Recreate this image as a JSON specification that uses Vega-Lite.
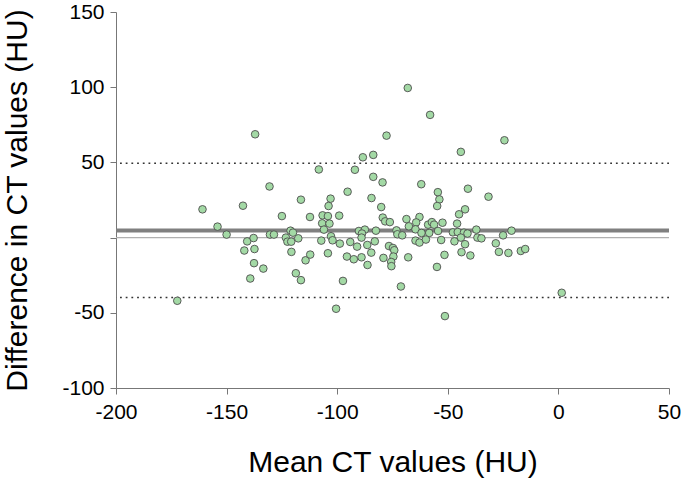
{
  "$schema": "https://vega.github.io/schema/vega-lite/v6.json",
  "width": 553,
  "height": 376,
  "autosize": {"type": "none"},
  "padding": {"left": 116, "top": 12, "right": 16, "bottom": 93},
  "config": {
    "view": {"stroke": null},
    "font": "Liberation Sans",
    "axis": {
      "grid": false,
      "domainColor": "#777777",
      "tickColor": "#777777",
      "tickSize": 6,
      "labelFontSize": 21,
      "titleFontSize": 30,
      "titleFontWeight": "normal",
      "labelColor": "#000000",
      "titleColor": "#000000",
      "labelFont": "Liberation Sans",
      "titleFont": "Liberation Sans",
      "labelFlush": false,
      "labelOverlap": false
    }
  },
  "layer": [
    {
      "data": {"values": [{"diff": 0}]},
      "mark": {"type": "rule", "color": "#b0b0b0", "strokeWidth": 1.2},
      "encoding": {"y": {"field": "diff", "type": "quantitative", "scale": {"domain": [-100, 150], "nice": false}}}
    },
    {
      "data": {"values": [{"diff": 4.8}]},
      "mark": {"type": "rule", "color": "#808080", "strokeWidth": 4},
      "encoding": {"y": {"field": "diff", "type": "quantitative"}}
    },
    {
      "data": {"values": [{"diff": 49.4}, {"diff": -39.8}]},
      "mark": {"type": "rule", "color": "#333333", "strokeWidth": 1.6, "strokeDash": [1.8, 3.9]},
      "encoding": {"y": {"field": "diff", "type": "quantitative"}}
    },
    {
      "data": {"values": [
        {"mean": -137.1, "diff": 68.7}, {"mean": -68.1, "diff": 99.5}, {"mean": -77.7, "diff": 67.8},
        {"mean": -130.6, "diff": 34.0}, {"mean": -108.3, "diff": 45.3}, {"mean": -92.0, "diff": 45.1},
        {"mean": -88.4, "diff": 53.4}, {"mean": -83.7, "diff": 55.0}, {"mean": -83.7, "diff": 40.4},
        {"mean": -79.5, "diff": 36.7}, {"mean": -95.3, "diff": 30.5}, {"mean": -116.4, "diff": 25.2},
        {"mean": -103.0, "diff": 25.9}, {"mean": -84.5, "diff": 26.3}, {"mean": -58.0, "diff": 81.6},
        {"mean": -24.4, "diff": 64.7}, {"mean": -44.1, "diff": 57.0}, {"mean": -62.0, "diff": 35.5},
        {"mean": -54.5, "diff": 30.2}, {"mean": -40.9, "diff": 32.5}, {"mean": -31.6, "diff": 27.2},
        {"mean": -53.8, "diff": 25.4}, {"mean": -160.9, "diff": 18.8}, {"mean": -142.6, "diff": 21.2},
        {"mean": -154.1, "diff": 7.3}, {"mean": -150.0, "diff": 2.0}, {"mean": -140.7, "diff": -2.5},
        {"mean": -137.8, "diff": -0.3}, {"mean": -142.0, "diff": -8.6}, {"mean": -137.4, "diff": -7.6},
        {"mean": -137.6, "diff": -17.0}, {"mean": -133.4, "diff": -20.6}, {"mean": -139.3, "diff": -27.2},
        {"mean": -172.3, "diff": -42.0}, {"mean": -125.0, "diff": 14.3}, {"mean": -112.3, "diff": 13.7},
        {"mean": -103.9, "diff": 21.0}, {"mean": -106.6, "diff": 14.8}, {"mean": -104.2, "diff": 14.3},
        {"mean": -99.1, "diff": 14.6}, {"mean": -106.8, "diff": 9.5}, {"mean": -103.5, "diff": 9.3},
        {"mean": -106.0, "diff": 5.3}, {"mean": -130.4, "diff": 2.0}, {"mean": -128.6, "diff": 2.0},
        {"mean": -121.1, "diff": 4.6}, {"mean": -120.0, "diff": 3.3}, {"mean": -123.2, "diff": 0.0},
        {"mean": -122.5, "diff": -2.7}, {"mean": -120.8, "diff": -2.7}, {"mean": -117.6, "diff": -0.5},
        {"mean": -120.7, "diff": -9.5}, {"mean": -114.3, "diff": -15.1}, {"mean": -112.2, "diff": -11.3},
        {"mean": -118.7, "diff": -23.7}, {"mean": -116.4, "diff": -28.3}, {"mean": -107.2, "diff": -2.0},
        {"mean": -102.8, "diff": 0.9}, {"mean": -102.1, "diff": -1.8}, {"mean": -98.8, "diff": -4.0},
        {"mean": -104.2, "diff": -10.4}, {"mean": -97.4, "diff": -28.8}, {"mean": -100.5, "diff": -47.3},
        {"mean": -80.1, "diff": 20.3}, {"mean": -79.4, "diff": 13.3}, {"mean": -78.3, "diff": 10.8},
        {"mean": -76.2, "diff": 10.3}, {"mean": -68.7, "diff": 12.3}, {"mean": -67.6, "diff": 7.5},
        {"mean": -90.2, "diff": 4.4}, {"mean": -87.5, "diff": 5.3}, {"mean": -88.8, "diff": 2.7},
        {"mean": -82.5, "diff": 4.6}, {"mean": -89.0, "diff": 0.0}, {"mean": -94.1, "diff": -2.9},
        {"mean": -91.0, "diff": -6.0}, {"mean": -86.4, "diff": -4.9}, {"mean": -83.0, "diff": -2.5},
        {"mean": -84.6, "diff": -10.0}, {"mean": -95.6, "diff": -12.6}, {"mean": -92.5, "diff": -14.4},
        {"mean": -89.0, "diff": -13.1}, {"mean": -86.3, "diff": -18.2}, {"mean": -73.2, "diff": 4.8},
        {"mean": -72.8, "diff": 2.2}, {"mean": -70.6, "diff": 1.5}, {"mean": -76.6, "diff": -5.6},
        {"mean": -74.8, "diff": -6.9}, {"mean": -74.2, "diff": -8.4}, {"mean": -79.1, "diff": -13.5},
        {"mean": -74.6, "diff": -12.6}, {"mean": -75.6, "diff": -16.2}, {"mean": -75.5, "diff": -19.0},
        {"mean": -67.9, "diff": -13.1}, {"mean": -71.2, "diff": -32.5}, {"mean": -54.8, "diff": 21.0},
        {"mean": -42.2, "diff": 18.8}, {"mean": -44.9, "diff": 15.5}, {"mean": -62.8, "diff": 13.7},
        {"mean": -64.3, "diff": 10.1}, {"mean": -64.6, "diff": 5.5}, {"mean": -58.9, "diff": 8.6},
        {"mean": -57.2, "diff": 10.3}, {"mean": -56.2, "diff": 8.6}, {"mean": -52.4, "diff": 9.9},
        {"mean": -45.8, "diff": 9.3}, {"mean": -54.4, "diff": 4.4}, {"mean": -58.4, "diff": 3.1},
        {"mean": -61.9, "diff": 3.1}, {"mean": -64.6, "diff": -2.0}, {"mean": -62.8, "diff": -3.3},
        {"mean": -59.9, "diff": -1.3}, {"mean": -53.0, "diff": -1.6}, {"mean": -47.7, "diff": 3.5},
        {"mean": -45.5, "diff": 3.7}, {"mean": -42.7, "diff": 3.3}, {"mean": -41.1, "diff": 2.7},
        {"mean": -37.1, "diff": 5.3}, {"mean": -44.1, "diff": 0.0}, {"mean": -47.0, "diff": -2.5},
        {"mean": -42.2, "diff": -4.4}, {"mean": -36.6, "diff": 0.0}, {"mean": -34.8, "diff": -0.5},
        {"mean": -28.3, "diff": -3.8}, {"mean": -25.0, "diff": 1.5}, {"mean": -21.2, "diff": 4.6},
        {"mean": -26.9, "diff": -9.5}, {"mean": -22.6, "diff": -10.2}, {"mean": -17.0, "diff": -8.9},
        {"mean": -15.0, "diff": -7.6}, {"mean": -51.5, "diff": -11.5}, {"mean": -43.8, "diff": -9.7},
        {"mean": -39.8, "diff": -11.9}, {"mean": -54.9, "diff": -19.5}, {"mean": 1.5, "diff": -36.7},
        {"mean": -51.3, "diff": -52.2}
      ]},
      "mark": {"type": "circle", "size": 58, "fill": "#a3d9a5", "stroke": "#4d4d4d", "strokeWidth": 0.9, "opacity": 1, "fillOpacity": 1},
      "encoding": {
        "x": {
          "field": "mean", "type": "quantitative",
          "scale": {"domain": [-200, 50], "nice": false},
          "axis": {
            "values": [-200, -150, -100, -50, 0, 50],
            "title": "Mean CT values (HU)",
            "labelExpr": "'' + datum.value",
            "labelPadding": 7,
            "titlePadding": 25
          }
        },
        "y": {
          "field": "diff", "type": "quantitative",
          "scale": {"domain": [-100, 150], "nice": false},
          "axis": {
            "values": [-100, -50, 0, 50, 100, 150],
            "title": "Difference in CT values (HU)",
            "labelExpr": "datum.value === 0 ? '' : '' + datum.value",
            "labelPadding": 6,
            "titleX": -90,
            "titleBaseline": "alphabetic"
          }
        }
      }
    }
  ]
}
